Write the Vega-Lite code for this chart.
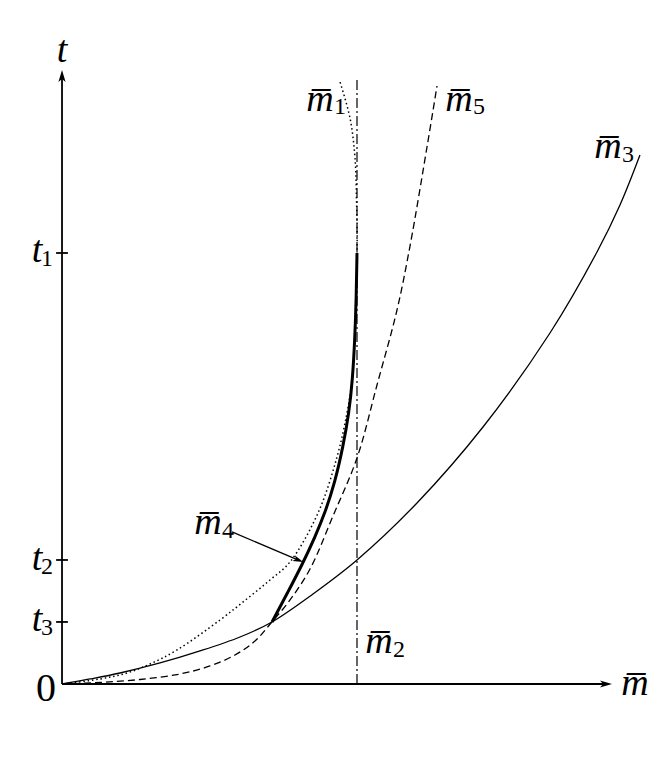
{
  "$schema": "https://vega.github.io/schema/vega-lite/v6.json",
  "width": 665,
  "height": 761,
  "autosize": {"type": "fit", "contains": "padding"},
  "padding": 0,
  "background": "white",
  "config": {"view": {"stroke": null}, "text": {"font": "Liberation Serif"}},
  "datasets": {
    "curves": [
      {"s": "m1", "m": 0, "t": 0},
      {"s": "m1", "m": 0.1288, "t": 0.0116},
      {"s": "m1", "m": 0.2203, "t": 0.0255},
      {"s": "m1", "m": 0.2983, "t": 0.0464},
      {"s": "m1", "m": 0.3898, "t": 0.0789},
      {"s": "m1", "m": 0.5356, "t": 0.1485},
      {"s": "m1", "m": 0.6305, "t": 0.1995},
      {"s": "m1", "m": 0.7051, "t": 0.2413},
      {"s": "m1", "m": 0.7729, "t": 0.2831},
      {"s": "m1", "m": 0.8678, "t": 0.3968},
      {"s": "m1", "m": 0.9322, "t": 0.5267},
      {"s": "m1", "m": 0.9661, "t": 0.6288},
      {"s": "m1", "m": 0.9831, "t": 0.7053},
      {"s": "m1", "m": 0.9932, "t": 0.8213},
      {"s": "m1", "m": 0.9995, "t": 0.9606},
      {"s": "m1", "m": 1.0005, "t": 1.0534},
      {"s": "m1", "m": 0.999, "t": 1.1044},
      {"s": "m1", "m": 0.9932, "t": 1.2204},
      {"s": "m1", "m": 0.9763, "t": 1.3132},
      {"s": "m1", "m": 0.9424, "t": 1.3968},
      {"s": "m3", "m": 0, "t": 0},
      {"s": "m3", "m": 0.0949, "t": 0.0116},
      {"s": "m3", "m": 0.1966, "t": 0.0255},
      {"s": "m3", "m": 0.3322, "t": 0.0487},
      {"s": "m3", "m": 0.4678, "t": 0.0766},
      {"s": "m3", "m": 0.6034, "t": 0.109},
      {"s": "m3", "m": 0.7119, "t": 0.1439},
      {"s": "m3", "m": 0.8508, "t": 0.2088},
      {"s": "m3", "m": 1.0, "t": 0.2877},
      {"s": "m3", "m": 1.2034, "t": 0.42},
      {"s": "m3", "m": 1.4271, "t": 0.5963},
      {"s": "m3", "m": 1.6542, "t": 0.8144},
      {"s": "m3", "m": 1.8136, "t": 1.0023},
      {"s": "m3", "m": 1.8915, "t": 1.1114},
      {"s": "m3", "m": 1.9593, "t": 1.2274},
      {"s": "m4", "m": 0.7119, "t": 0.1439},
      {"s": "m4", "m": 0.7661, "t": 0.2135},
      {"s": "m4", "m": 0.8169, "t": 0.2807},
      {"s": "m4", "m": 0.8576, "t": 0.3411},
      {"s": "m4", "m": 0.8915, "t": 0.3968},
      {"s": "m4", "m": 0.9254, "t": 0.4687},
      {"s": "m4", "m": 0.9525, "t": 0.5499},
      {"s": "m4", "m": 0.9729, "t": 0.6288},
      {"s": "m4", "m": 0.9847, "t": 0.7053},
      {"s": "m4", "m": 0.9925, "t": 0.7981},
      {"s": "m4", "m": 0.9973, "t": 0.891},
      {"s": "m4", "m": 1.0, "t": 1.0},
      {"s": "m5", "m": 0, "t": 0},
      {"s": "m5", "m": 0.1288, "t": 0.0035},
      {"s": "m5", "m": 0.2644, "t": 0.0104},
      {"s": "m5", "m": 0.4, "t": 0.0232},
      {"s": "m5", "m": 0.5017, "t": 0.0418},
      {"s": "m5", "m": 0.5864, "t": 0.0673},
      {"s": "m5", "m": 0.6542, "t": 0.0998},
      {"s": "m5", "m": 0.7085, "t": 0.1415},
      {"s": "m5", "m": 0.7729, "t": 0.1949},
      {"s": "m5", "m": 0.8407, "t": 0.2668},
      {"s": "m5", "m": 0.9186, "t": 0.3898},
      {"s": "m5", "m": 1.0, "t": 0.5244},
      {"s": "m5", "m": 1.0678, "t": 0.6937},
      {"s": "m5", "m": 1.1356, "t": 0.8677},
      {"s": "m5", "m": 1.1797, "t": 1.0162},
      {"s": "m5", "m": 1.2373, "t": 1.2459},
      {"s": "m5", "m": 1.2712, "t": 1.3875}
    ],
    "segments": [
      {"kind": "axis", "m": 0, "t": 0, "m_end": 1.84, "t_end": 0},
      {"kind": "axis", "m": 0, "t": 0, "m_end": 0, "t_end": 1.41},
      {"kind": "tick", "m": -0.02, "t": 1.0, "m_end": 0.02, "t_end": 1.0},
      {"kind": "tick", "m": -0.02, "t": 0.2877, "m_end": 0.02, "t_end": 0.2877},
      {"kind": "tick", "m": -0.02, "t": 0.1439, "m_end": 0.02, "t_end": 0.1439},
      {"kind": "m2", "m": 1.0, "t": 0, "m_end": 1.0, "t_end": 1.4014},
      {"kind": "pointer", "m": 0.5763, "t": 0.3527, "m_end": 0.8014, "t_end": 0.2875}
    ],
    "heads": [
      {"name": "x", "m": 1.8441, "t": 0},
      {"name": "y", "m": 0, "t": 1.4107},
      {"name": "p", "m": 0.8014, "t": 0.2875}
    ],
    "labels": [
      {"kind": "italic", "text": "t", "m": 0, "t": 1.4432},
      {"kind": "italic", "text": "t", "m": -0.0847, "t": 0.9791},
      {"kind": "sub", "text": "1", "m": -0.0508, "t": 0.9698},
      {"kind": "italic", "text": "t", "m": -0.0847, "t": 0.2645},
      {"kind": "sub", "text": "2", "m": -0.0508, "t": 0.2552},
      {"kind": "italic", "text": "t", "m": -0.0847, "t": 0.123},
      {"kind": "sub", "text": "3", "m": -0.0508, "t": 0.1137},
      {"kind": "upright", "text": "0", "m": -0.0542, "t": -0.0394},
      {"kind": "italic", "text": "m\u0305", "m": 0.8746, "t": 1.3295},
      {"kind": "sub", "text": "1", "m": 0.9424, "t": 1.3225},
      {"kind": "italic", "text": "m\u0305", "m": 1.3458, "t": 1.3295},
      {"kind": "sub", "text": "5", "m": 1.4136, "t": 1.3225},
      {"kind": "italic", "text": "m\u0305", "m": 1.8508, "t": 1.2204},
      {"kind": "sub", "text": "3", "m": 1.9186, "t": 1.2111},
      {"kind": "italic", "text": "m\u0305", "m": 1.0746, "t": 0.0719},
      {"kind": "sub", "text": "2", "m": 1.1424, "t": 0.0626},
      {"kind": "italic", "text": "m\u0305", "m": 1.9424, "t": -0.0255},
      {"kind": "italic", "text": "m\u0305", "m": 0.4949, "t": 0.348},
      {"kind": "sub", "text": "4", "m": 0.5627, "t": 0.3387}
    ]
  },
  "encoding": {
    "x": {"field": "m", "type": "quantitative", "scale": {"domain": [-0.2102, 2.0441], "nice": false, "zero": false}, "axis": null},
    "y": {"field": "t", "type": "quantitative", "scale": {"domain": [-0.1787, 1.587], "nice": false, "zero": false}, "axis": null}
  },
  "layer": [
    {
      "data": {"name": "curves"},
      "transform": [{"filter": "datum.s === 'm1'"}],
      "mark": {"type": "line", "interpolate": "catmull-rom", "color": "black", "strokeWidth": 1.5, "strokeDash": [1.5, 2.8]},
      "encoding": {"order": {"field": "t", "type": "quantitative"}}
    },
    {
      "data": {"name": "curves"},
      "transform": [{"filter": "datum.s === 'm3'"}],
      "mark": {"type": "line", "interpolate": "catmull-rom", "color": "black", "strokeWidth": 1.3},
      "encoding": {"order": {"field": "t", "type": "quantitative"}}
    },
    {
      "data": {"name": "curves"},
      "transform": [{"filter": "datum.s === 'm5'"}],
      "mark": {"type": "line", "interpolate": "catmull-rom", "color": "black", "strokeWidth": 1.3, "strokeDash": [7, 4]},
      "encoding": {"order": {"field": "t", "type": "quantitative"}}
    },
    {
      "data": {"name": "curves"},
      "transform": [{"filter": "datum.s === 'm4'"}],
      "mark": {"type": "line", "interpolate": "basis", "color": "black", "strokeWidth": 3},
      "encoding": {"order": {"field": "t", "type": "quantitative"}}
    },
    {
      "data": {"name": "segments"},
      "transform": [{"filter": "datum.kind === 'm2'"}],
      "mark": {"type": "rule", "color": "black", "strokeWidth": 1.2, "strokeDash": [10, 3, 2, 3]},
      "encoding": {"x2": {"field": "m_end"}, "y2": {"field": "t_end"}}
    },
    {
      "data": {"name": "segments"},
      "transform": [{"filter": "datum.kind === 'axis' || datum.kind === 'tick'"}],
      "mark": {"type": "rule", "color": "black", "strokeWidth": 1.8},
      "encoding": {"x2": {"field": "m_end"}, "y2": {"field": "t_end"}}
    },
    {
      "data": {"name": "segments"},
      "transform": [{"filter": "datum.kind === 'pointer'"}],
      "mark": {"type": "rule", "color": "black", "strokeWidth": 1.3},
      "encoding": {"x2": {"field": "m_end"}, "y2": {"field": "t_end"}}
    },
    {
      "data": {"name": "heads"},
      "transform": [{"filter": "datum.name === 'x'"}],
      "mark": {"type": "point", "shape": "M1,0L-1,-0.6L-0.5,0L-1,0.6Z", "filled": true, "color": "black", "opacity": 1, "size": 144, "angle": 0}
    },
    {
      "data": {"name": "heads"},
      "transform": [{"filter": "datum.name === 'y'"}],
      "mark": {"type": "point", "shape": "M1,0L-1,-0.6L-0.5,0L-1,0.6Z", "filled": true, "color": "black", "opacity": 1, "size": 144, "angle": -90}
    },
    {
      "data": {"name": "heads"},
      "transform": [{"filter": "datum.name === 'p'"}],
      "mark": {"type": "point", "shape": "M1,0L-1,-0.6L-0.5,0L-1,0.6Z", "filled": true, "color": "black", "opacity": 1, "size": 110, "angle": 22.7}
    },
    {
      "data": {"name": "labels"},
      "transform": [{"filter": "datum.kind === 'italic'"}],
      "mark": {"type": "text", "font": "Liberation Serif", "fontStyle": "italic", "fontSize": 38, "align": "center", "baseline": "alphabetic", "color": "black"},
      "encoding": {"text": {"field": "text"}}
    },
    {
      "data": {"name": "labels"},
      "transform": [{"filter": "datum.kind === 'upright'"}],
      "mark": {"type": "text", "font": "Liberation Serif", "fontSize": 40, "align": "center", "baseline": "alphabetic", "color": "black"},
      "encoding": {"text": {"field": "text"}}
    },
    {
      "data": {"name": "labels"},
      "transform": [{"filter": "datum.kind === 'sub'"}],
      "mark": {"type": "text", "font": "Liberation Serif", "fontSize": 24, "align": "center", "baseline": "alphabetic", "color": "black"},
      "encoding": {"text": {"field": "text"}}
    }
  ]
}
